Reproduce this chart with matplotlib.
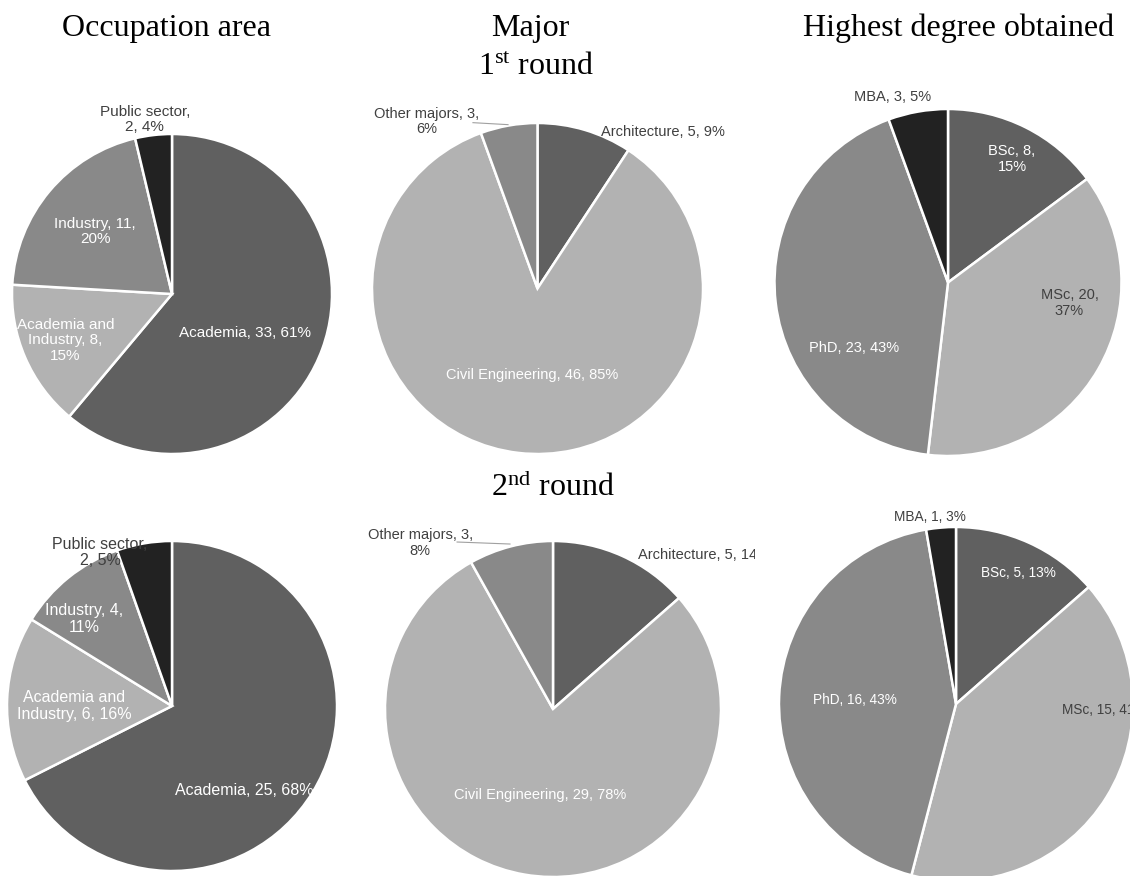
import matplotlib
matplotlib.use("Agg")
import matplotlib.pyplot as plt
from matplotlib.transforms import Bbox

# ---- data ----
occ_r1 = [33, 8, 11, 2]
occ_r2 = [25, 6, 4, 2]
occ_text_r1 = ["Academia, 33, 61%", "Academia and\nIndustry, 8,\n15%", "Industry, 11,\n20%", "Public sector,\n2, 4%"]
occ_text_r2 = ["Academia, 25, 68%", "Academia and\nIndustry, 6, 16%", "Industry, 4,\n11%", "Public sector,\n2, 5%"]

major_r1 = [5, 46, 3]
major_r2 = [5, 29, 3]
major_text_r1 = ["Architecture, 5, 9%", "Civil Engineering, 46, 85%", "Other majors, 3,\n6%"]
major_text_r2 = ["Architecture, 5, 14%", "Civil Engineering, 29, 78%", "Other majors, 3,\n8%"]

degree_r1 = [8, 20, 23, 3]
degree_r2 = [5, 15, 16, 1]
degree_text_r1 = ["BSc, 8,\n15%", "MSc, 20,\n37%", "PhD, 23, 43%", "MBA, 3, 5%"]
degree_text_r2 = ["BSc, 5, 13%", "MSc, 15, 41%", "PhD, 16, 43%", "MBA, 1, 3%"]

# ---- style ----
DARK, LIGHT, MID, BLACK = "#606060", "#b2b2b2", "#898989", "#222222"
TXT_DARK = "#404040"
W, H = 1130, 876

plt.rcParams["font.family"] = ["Liberation Sans", "DejaVu Sans"]
plt.rcParams["mathtext.fontset"] = "custom"
plt.rcParams["mathtext.rm"] = "Liberation Serif"
plt.rcParams["mathtext.it"] = "Liberation Serif:italic"

fig = plt.figure(figsize=(W / 100, H / 100), dpi=100)


def pie_axes(cx, cy, r):
    ax = fig.add_axes([(cx - r) / W, (H - cy - r) / H, 2 * r / W, 2 * r / H])
    return ax


def draw_pie(cx, cy, r, values, colors, texts, spots, tcolors, size=10.5,
             aligns=None, clip=None):
    ax = pie_axes(cx, cy, r)
    ax.pie(values, colors=colors, startangle=90, counterclock=False, radius=1,
           wedgeprops=dict(edgecolor="white", linewidth=1.8))
    ax.set_xlim(-1, 1)
    ax.set_ylim(-1, 1)
    ax.axis("off")
    if aligns is None:
        aligns = ["center"] * len(texts)
    for t, (x, y), c, ha in zip(texts, spots, tcolors, aligns):
        txt = ax.text(x, y, t, color=c, fontsize=size, ha=ha, va="center",
                      multialignment="center", linespacing=1.15, clip_on=False)
        if clip is not None:
            txt.set_clip_on(True)
            txt.set_clip_box(clip)
    return ax


# top row
draw_pie(172, 294, 160, occ_r1, [DARK, LIGHT, MID, BLACK], occ_text_r1,
         [(0.456, -0.244), (-0.665, -0.29), (-0.48, 0.39), (-0.17, 1.09)],
         ["white", "white", "white", TXT_DARK], size=11)

ax2 = draw_pie(537.5, 288.5, 165.5, major_r1, [DARK, LIGHT, MID], major_text_r1,
               [(0.758, 0.946), (-0.03, -0.52), (-0.668, 1.01)],
               [TXT_DARK, "white", TXT_DARK], size=10.5)
ax2.plot([-0.39, -0.178], [1.002, 0.99], color="#a0a0a0", lw=0.8, clip_on=False)

draw_pie(948, 282.5, 173.5, degree_r1, [DARK, LIGHT, MID, BLACK], degree_text_r1,
         [(0.369, 0.712), (0.70, -0.12), (-0.54, -0.38), (-0.32, 1.07)],
         ["white", TXT_DARK, "white", TXT_DARK], size=10.5)

# bottom row
draw_pie(172, 706, 165, occ_r2, [DARK, LIGHT, MID, BLACK], occ_text_r2,
         [(0.44, -0.51), (-0.594, 0.0), (-0.533, 0.527), (-0.436, 0.93)],
         ["white", "white", "white", TXT_DARK], size=11.5)

ax5 = draw_pie(553, 709, 168, major_r2, [DARK, LIGHT, MID], major_text_r2,
               [(0.506, 0.917), (-0.077, -0.51), (-0.79, 0.988)],
               [TXT_DARK, "white", TXT_DARK], size=10.5,
               aligns=["left", "center", "center"],
               clip=Bbox.from_extents(0, 0, 755, H))
ax5.plot([-0.571, -0.256], [0.994, 0.982], color="#a0a0a0", lw=0.8, clip_on=False)

draw_pie(956, 704, 177, degree_r2, [DARK, LIGHT, MID, BLACK], degree_text_r2,
         [(0.35, 0.74), (0.60, -0.034), (-0.57, 0.02), (-0.147, 1.056)],
         ["white", TXT_DARK, "white", TXT_DARK], size=9.8,
         aligns=["center", "left", "center", "center"])

# titles
tkw = dict(fontsize=23, family="Liberation Serif", ha="center", va="baseline", color="black")
fig.text(166 / W, 1 - 36 / H, "Occupation area", **tkw)
fig.text(530 / W, 1 - 36 / H, "Major", **tkw)
fig.text(959 / W, 1 - 36 / H, "Highest degree obtained", **tkw)
fig.text(536 / W, 1 - 75 / H, r"1$^{\mathrm{st}}$ round", **tkw)
fig.text(553 / W, 1 - 496 / H, r"2$^{\mathrm{nd}}$ round", **tkw)

fig.savefig("out.png", dpi=100)
